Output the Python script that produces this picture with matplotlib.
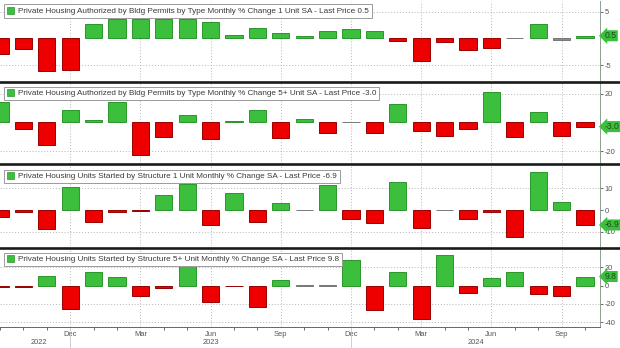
import numpy as np
import matplotlib
matplotlib.use("Agg")
import matplotlib.pyplot as plt
from matplotlib.lines import Line2D
from matplotlib.patches import Patch
import matplotlib.transforms as mtrans

# months Sep 2022 .. Oct 2024
months = ["Sep22", "Oct22", "Nov22", "Dec22", "Jan23", "Feb23", "Mar23", "Apr23", "May23",
          "Jun23", "Jul23", "Aug23", "Sep23", "Oct23", "Nov23", "Dec23", "Jan24", "Feb24",
          "Mar24", "Apr24", "May24", "Jun24", "Jul24", "Aug24", "Sep24", "Oct24"]

permits_1unit = [-2.8, -2.0, -6.1, -5.8, 2.7, 3.6, 3.6, 3.6, 3.6, 3.1, 0.7, 2.0, 1.1,
                 0.5, 1.3, 1.8, 1.3, -0.5, -4.2, -0.7, -2.1, -1.7, 0.1, 2.7, -0.3, 0.5]
permits_5unit = [14.3, -4.9, -15.8, 8.5, 1.5, 14.3, -22.7, -10.0, 5.1, -11.8, 0.8, 8.5, -10.7,
                 2.5, -7.6, 0.2, -7.6, 12.5, -6.0, -9.3, -4.9, 20.8, -10.4, 7.4, -9.3, -3.0]
starts_1unit = [-3.4, -1.1, -8.8, 10.8, -5.4, -0.8, -0.5, 6.9, 11.8, -6.9, 7.7, -5.7, 3.4,
                0.2, 11.5, -4.1, -6.1, 12.8, -8.1, 0.2, -4.3, -0.8, -12.3, 17.4, 3.8, -6.9]
starts_5unit = [-1.5, -1.8, 10.0, -25.9, 14.3, 9.4, -11.5, -2.5, 22.0, -18.0, -1.0, -23.4, 6.5,
                0.3, 0.2, 27.3, -26.6, 14.3, -36.7, 33.4, -7.9, 8.3, 14.8, -9.0, -11.5, 9.8]

titles = ["Private Housing Authorized by Bldg Permits by Type Monthly % Change 1 Unit SA - Last Price 0.5",
          "Private Housing Authorized by Bldg Permits by Type Monthly % Change 5+ Unit SA - Last Price -3.0",
          "Private Housing Units Started by Structure 1 Unit Monthly % Change SA - Last Price -6.9",
          "Private Housing Units Started by Structure 5+ Unit Monthly % Change SA - Last Price 9.8"]
last_labels = ["0.5", "-3.0", "-6.9", "9.8"]
yticks = [[5, -5], [20, -20], [10, 0, -10], [20, 0, -20, -40]]
ylims = [(-7.7, 6.95), (-28.3, 27.3), (-16.6, 20.3), (-45.2, 39.8)]

quarter_idx = [3, 6, 9, 12, 15, 18, 21, 24]
quarter_lbl = ["Dec", "Mar", "Jun", "Sep", "Dec", "Mar", "Jun", "Sep"]
years = ["2022", "2023", "2024"]
year_pos = [1.66, 9.0, 20.35]

GREEN = "#3cbf3c"
GREEN_E = "#2a962a"
RED = "#ee0000"
RED_E = "#9a0000"
GRAY = "#555555"

plt.rcParams["font.family"] = ["Liberation Sans", "DejaVu Sans"]

fig = plt.figure(figsize=(6.2, 3.48), dpi=100)
W, H = 620.0, 348.0
panels_px = [(1, 80), (83, 163), (166, 246), (249, 327)]
series = [permits_1unit, permits_5unit, starts_1unit, starts_5unit]
x = np.arange(len(months))

axes = []
for i, (top, bot) in enumerate(panels_px):
    ax = fig.add_axes([0, 1 - bot / H, 600 / W, (bot - top) / H])
    axes.append(ax)
    vals = np.array(series[i])
    cols = [GREEN if v > 0.3 else (RED if v < -0.3 else "#8a8a8a") for v in vals]
    ecols = [GREEN_E if v > 0.3 else (RED_E if v < -0.3 else "#777777") for v in vals]
    ax.bar(x, vals, width=0.74, color=cols, edgecolor=ecols, linewidth=0.7, zorder=3)
    ax.set_xlim(0.26, 25.64)
    ax.set_ylim(*ylims[i])

    for s in ["left", "top", "bottom"]:
        ax.spines[s].set_visible(False)
    ax.spines["right"].set_color("#8fa08f")
    ax.spines["right"].set_linewidth(0.7)

    ax.yaxis.tick_right()
    ax.set_yticks(yticks[i])
    ax.set_yticklabels([str(t) for t in yticks[i]])
    ax.tick_params(axis="y", length=2, width=0.6, color=GRAY, labelsize=5.4,
                   labelcolor=GRAY, pad=1.5)
    for t in yticks[i]:
        if t != 0:
            ax.axhline(t, color="#b5b5b5", lw=0.7, ls=(0, (1, 2)), zorder=1)
    for q in quarter_idx:
        ax.axvline(q, color="#b5b5b5", lw=0.7, ls=(0, (1, 2)), zorder=1)

    ax.set_xticks(quarter_idx)
    ax.set_xticks(x, minor=True)
    if i < 3:
        ax.tick_params(axis="x", which="both", length=0, labelbottom=False)
    else:
        ax.spines["bottom"].set_visible(True)
        ax.spines["bottom"].set_color("#666666")
        ax.spines["bottom"].set_linewidth(0.7)
        ax.set_xticklabels(quarter_lbl)
        ax.tick_params(axis="x", which="major", length=0, labelsize=5.4,
                       labelcolor=GRAY, pad=3)
        ax.tick_params(axis="x", which="minor", length=2, width=0.6, color=GRAY)
        tr = mtrans.blended_transform_factory(ax.transData, ax.transAxes)
        for xp, yl in zip(year_pos, years):
            ax.text(xp, -0.2, yl, transform=tr, ha="center", va="center",
                    fontsize=5.4, color=GRAY)
        for q in [3, 15]:
            ax.plot([q, q], [0, -0.3], transform=tr, color="#c8c8c8", lw=0.6,
                    clip_on=False)

    # last price tag
    trr = mtrans.blended_transform_factory(ax.transAxes, ax.transData)
    ax.text(1.008, series[i][-1], last_labels[i], transform=trr, ha="left", va="center",
            fontsize=6.2, color="#1d4d1d", zorder=6, clip_on=False,
            bbox=dict(boxstyle="larrow,pad=0.12", fc=GREEN, ec="none"))

    leg = ax.legend(handles=[Patch(facecolor=GREEN, edgecolor=GREEN_E, linewidth=0.5)],
                    labels=[titles[i]], loc="upper left",
                    bbox_to_anchor=(4 / 600, 1 - 3.5 / (bot - top)), borderaxespad=0,
                    fontsize=5.9, frameon=True, fancybox=False, handlelength=0.85,
                    handleheight=0.85, handletextpad=0.5, borderpad=0.35)
    leg.get_frame().set_edgecolor("#9a9a9a")
    leg.get_frame().set_linewidth(0.7)
    leg.get_frame().set_alpha(1)
    for t in leg.get_texts():
        t.set_color("#3a3a3a")
    leg.set_zorder(10)

# dark separators between panels
for yp in [81.5, 164.5, 247.5]:
    fig.add_artist(Line2D([0, 1], [1 - yp / H, 1 - yp / H], transform=fig.transFigure,
                          color="#1a1a1a", lw=1.9))

fig.savefig("out.png", dpi=100)
